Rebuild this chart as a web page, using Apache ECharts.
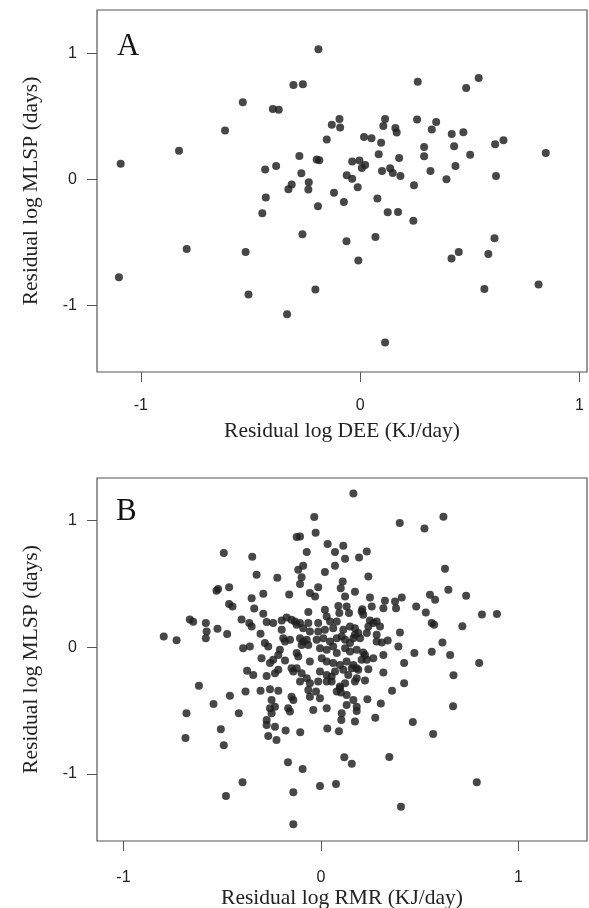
<!DOCTYPE html>
<html><head><meta charset="utf-8">
<script src="https://cdn.jsdelivr.net/npm/echarts@6/dist/echarts.min.js"></script>
<style>html,body{margin:0;padding:0;background:#fff}#c{width:589px;height:908px}</style>
</head><body><div id="c"></div>
<script>
// Panel A: residual log DEE vs residual log MLSP
const panelA = [
[-0.19,1.03],[-0.304,0.747],[-0.261,0.753],[-0.535,0.61],[-0.398,0.557],[-0.371,0.552],[-0.616,0.386],[-0.129,0.433],[-0.094,0.478],[-0.091,0.41],[-0.152,0.315],[-0.826,0.227],[-1.092,0.124],[-0.277,0.185],[-0.198,0.156],[-0.186,0.15],[-0.433,0.077],[-0.383,0.105],[-0.268,0.048],[-0.234,-0.024],[-0.312,-0.042],[-0.327,-0.079],[-0.236,-0.082],[-0.119,-0.106],[-0.43,-0.145],
[0.263,0.774],[0.484,0.724],[0.541,0.803],[0.114,0.478],[0.106,0.422],[0.26,0.473],[0.347,0.454],[0.161,0.407],[0.167,0.37],[0.327,0.394],[0.018,0.335],[0.052,0.325],[0.096,0.29],[0.418,0.359],[0.471,0.372],[0.292,0.256],[0.429,0.261],[0.616,0.277],[0.654,0.309],[0.847,0.209],[0.085,0.198],[0.178,0.169],[0.292,0.182],[0.502,0.195],[-0.036,0.14],[-0.003,0.148],[0.008,0.09],[0.023,0.114],[0.1,0.066],[0.137,0.087],[0.149,0.05],[0.184,0.026],[0.321,0.066],[0.435,0.105],[0.62,0.026],[-0.061,0.032],[-0.036,0.005],[-0.011,-0.063],[0.246,-0.048],[0.394,0.0],[-0.074,-0.18],[0.079,-0.153],
[-0.192,-0.214],[-0.446,-0.269],[-0.263,-0.436],[-0.791,-0.552],[-0.522,-0.576],[-1.1,-0.777],[-0.509,-0.914],[-0.204,-0.874],[-0.333,-1.07],
[0.126,-0.261],[0.173,-0.259],[0.243,-0.328],[-0.062,-0.491],[0.07,-0.457],[-0.008,-0.644],[0.613,-0.468],[0.45,-0.576],[0.417,-0.629],[0.585,-0.592],[0.567,-0.869],[0.814,-0.835],[0.114,-1.294]
];
// Panel B: residual log RMR vs residual log MLSP
const panelB = [
[-0.492,0.743],[-0.348,0.714],[-0.521,0.459],[-0.529,0.445],[-0.465,0.474],[-0.465,0.340],[-0.448,0.321],[-0.664,0.218],[-0.647,0.200],[-0.583,0.190],[-0.579,0.123],[-0.583,0.071],[-0.524,0.145],[-0.475,0.103],[-0.796,0.084],[-0.731,0.055],[-0.618,-0.304],[-0.461,-0.383],[-0.544,-0.448],[-0.681,-0.522],[-0.416,-0.522],[-0.507,-0.648],[-0.686,-0.717],[-0.492,-0.775],[-0.397,-1.067],[-0.481,-1.175],[-0.394,-0.008],[-0.360,0.005],[-0.374,-0.187],[-0.343,-0.219],[-0.382,-0.351],
[-0.034,1.028],[-0.027,0.904],[-0.123,0.870],[-0.106,0.874],[-0.072,0.751],[0.034,0.814],[0.071,0.751],[-0.326,0.572],[-0.221,0.548],[-0.090,0.643],[-0.115,0.611],[-0.098,0.553],[-0.106,0.498],[0.020,0.593],[0.071,0.643],[-0.292,0.421],[-0.161,0.416],[-0.056,0.427],[-0.030,0.400],[-0.014,0.474],[-0.351,0.387],[-0.338,0.305],[-0.292,0.263],[-0.064,0.277],[0.020,0.295],[0.029,0.242],[-0.402,0.218],[-0.363,0.190],[-0.351,0.163],[-0.275,0.198],[-0.242,0.190],[-0.199,0.210],[-0.174,0.234],[-0.149,0.216],[-0.132,0.202],[-0.106,0.190],[-0.064,0.190],[-0.014,0.190],[0.046,0.202],[0.080,0.202],[-0.306,0.105],[-0.199,0.137],[-0.123,0.176],[-0.090,0.150],[-0.056,0.123],[-0.014,0.123],[0.020,0.137],[0.062,0.150],[0.113,0.137],[0.147,0.163],[0.172,0.150],[-0.191,0.071],[-0.182,0.044],[-0.157,0.058],[-0.106,0.071],[-0.090,0.044],[-0.072,0.058],[-0.098,0.018],[-0.064,0.018],[-0.022,0.058],[0.012,0.071],[0.046,0.044],[0.080,0.071],[0.122,0.058],[0.164,0.071],[-0.284,0.032],[-0.267,0.005],[-0.208,-0.021],[-0.216,-0.061],[-0.123,-0.047],[-0.115,-0.074],[-0.005,-0.008],[0.029,-0.021],[0.062,0.005],[0.122,-0.008],[0.147,-0.035],[0.181,-0.021],[-0.301,-0.087],[-0.242,-0.100],[-0.258,-0.126],[-0.182,-0.106],[-0.056,-0.114],[0.004,-0.087],[0.029,-0.114],[0.062,-0.126],[0.096,-0.140],[0.130,-0.114],[0.164,-0.140],[-0.149,-0.166],[-0.140,-0.193],[-0.123,-0.166],[-0.216,-0.179],[-0.233,-0.206],[-0.275,-0.227],[-0.098,-0.206],[-0.072,-0.245],[-0.005,-0.193],[0.029,-0.219],[0.071,-0.193],[0.113,-0.179],[0.138,-0.219],[0.181,-0.245],[-0.106,-0.272],[-0.056,-0.285],[-0.014,-0.272],[0.054,-0.272],[0.096,-0.311],[-0.306,-0.345],[-0.258,-0.332],[-0.216,-0.345],[-0.149,-0.391],[-0.140,-0.417],[-0.064,-0.338],[-0.056,-0.391],[-0.025,-0.351],[-0.005,-0.403],[0.080,-0.351],[0.130,-0.377],[0.164,-0.417],[-0.250,-0.417],[-0.258,-0.482],[-0.233,-0.470],[-0.250,-0.522],[-0.166,-0.482],[-0.157,-0.509],[0.029,-0.482],[-0.039,-0.496],[0.105,-0.522],[0.181,-0.470],[-0.275,-0.575],[-0.275,-0.614],[-0.233,-0.628],[-0.179,-0.659],[-0.105,-0.672],[0.032,-0.643],[-0.267,-0.701],[-0.225,-0.733],[-0.167,-0.909],[-0.093,-0.962],[-0.140,-1.146],[-0.005,-1.096],[0.076,-1.081],[-0.140,-1.399],[0.080,-0.047],[0.029,-0.272],
[0.164,1.214],[0.399,0.980],[0.524,0.938],[0.620,1.030],[0.113,0.801],[0.232,0.756],[0.193,0.708],[0.122,0.698],[0.240,0.558],[0.628,0.619],[0.110,0.519],[0.100,0.466],[0.645,0.453],[0.735,0.406],[0.172,0.437],[0.122,0.400],[0.248,0.392],[0.257,0.321],[0.324,0.366],[0.375,0.360],[0.409,0.392],[0.316,0.308],[0.380,0.308],[0.088,0.326],[0.130,0.321],[0.142,0.269],[0.093,0.269],[0.209,0.300],[0.214,0.255],[0.552,0.413],[0.578,0.374],[0.482,0.321],[0.531,0.274],[0.815,0.258],[0.891,0.261],[0.716,0.166],[0.561,0.190],[0.573,0.176],[0.248,0.210],[0.282,0.202],[0.299,0.163],[0.105,0.084],[0.189,0.111],[0.232,0.111],[0.400,0.115],[0.282,0.097],[0.282,0.044],[0.308,0.036],[0.338,0.052],[0.615,0.036],[0.392,0.005],[0.214,-0.043],[0.316,-0.061],[0.473,-0.047],[0.561,-0.037],[0.654,-0.061],[0.801,-0.126],[0.421,-0.126],[0.265,-0.087],[0.232,-0.100],[0.240,-0.174],[0.181,-0.166],[0.316,-0.201],[0.671,-0.221],[0.223,-0.264],[0.122,-0.285],[0.096,-0.324],[0.101,-0.359],[0.054,-0.232],[0.421,-0.285],[0.360,-0.345],[0.235,-0.411],[0.303,-0.446],[0.130,-0.456],[0.181,-0.504],[0.669,-0.466],[0.275,-0.557],[0.103,-0.575],[0.172,-0.588],[0.465,-0.591],[0.091,-0.664],[0.568,-0.685],[0.118,-0.870],[0.156,-0.920],[0.346,-0.867],[0.789,-1.067],[0.405,-1.260],[0.206,0.281],[0.223,-0.061],[0.206,-0.100],[0.156,-0.166],[0.189,-0.179],[0.172,-0.272],[0.198,0.071],[0.172,0.097],[0.147,0.032],[0.265,0.190],[0.240,0.163]
];
const tickValues = [-1, 0, 1];
const xTitles = ['Residual log DEE (KJ/day)', 'Residual log RMR (KJ/day)'];
const yTitle = 'Residual log MLSP (days)';
const panelLetters = ['A', 'B'];
const xRanges = [[-1.2, 1.035], [-1.134, 1.347]];
const yRanges = [[-1.528, 1.342], [-1.531, 1.336]];

const chart = echarts.init(document.getElementById('c'), null, {renderer: 'canvas'});
const grids = [
  {left: 97, top: 10, width: 490, height: 362},
  {left: 97, top: 478, width: 490, height: 363}
];
const labelMargins = [26, 29];
const nameGaps = [48, 45];
const axisCol = '#555';
const labelFont = {fontFamily: 'Liberation Sans', fontSize: 16, color: '#222'};
const titleFont = {fontFamily: 'Liberation Serif', fontSize: 21.5, color: '#222'};

const option = {
  animation: false,
  backgroundColor: '#fff',
  grid: grids.map(g => Object.assign({show: true, containLabel: false, outerBoundsMode: 'none',
    borderColor: axisCol, borderWidth: 1.2, backgroundColor: 'transparent'}, g)),
  xAxis: [0, 1].map(i => ({
    type: 'value', gridIndex: i, min: xRanges[i][0], max: xRanges[i][1],
    position: 'bottom',
    name: xTitles[i], nameLocation: 'middle', nameGap: nameGaps[i],
    nameTextStyle: titleFont,
    axisLine: {show: false, onZero: false},
    axisTick: {show: true, length: 10, customValues: tickValues, lineStyle: {color: axisCol, width: 1}},
    axisLabel: Object.assign({customValues: tickValues, margin: labelMargins[i], formatter: v => String(v)}, labelFont),
    splitLine: {show: false}
  })),
  yAxis: [0, 1].map(i => ({
    type: 'value', gridIndex: i, min: yRanges[i][0], max: yRanges[i][1],
    position: 'left',
    name: yTitle, nameLocation: 'middle', nameGap: 55, nameRotate: 90,
    nameTextStyle: titleFont,
    axisLine: {show: false, onZero: false},
    axisTick: {show: true, length: 10, customValues: tickValues, lineStyle: {color: axisCol, width: 1}},
    axisLabel: Object.assign({customValues: tickValues, margin: 20, formatter: v => String(v)}, labelFont),
    splitLine: {show: false}
  })),
  series: [panelA, panelB].map((d, i) => ({
    type: 'scatter', xAxisIndex: i, yAxisIndex: i, data: d,
    symbol: 'circle', symbolSize: 8,
    itemStyle: {color: '#1e1e1e', opacity: 0.82},
    silent: true
  })),
  graphic: [
    {type: 'text', left: 117, top: 31, style: {text: panelLetters[0], font: '31px "Liberation Serif"', fill: '#111'}},
    {type: 'text', left: 116, top: 496, style: {text: panelLetters[1], font: '31px "Liberation Serif"', fill: '#111'}}
  ]
};
chart.setOption(option);
</script>
</body></html>
